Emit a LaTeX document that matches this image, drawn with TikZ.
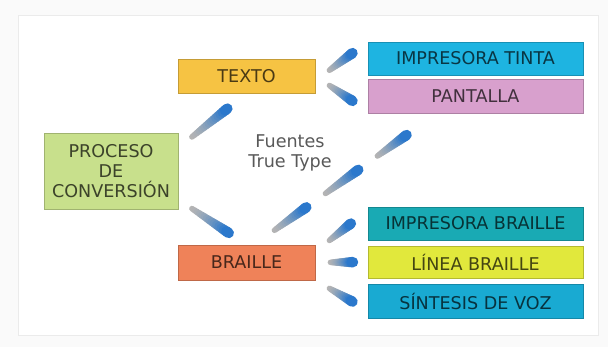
\documentclass[tikz,border=0pt]{standalone}
\usepackage{fontspec}
\setmainfont{DejaVu Sans}
\usepackage{xcolor}
\usepackage{tikz}
\usetikzlibrary{calc}

\definecolor{textoc}{HTML}{F6C343}
\definecolor{procesoc}{HTML}{C8E08C}
\definecolor{braillec}{HTML}{EF8259}
\definecolor{tintac}{HTML}{1EB4E1}
\definecolor{pantallac}{HTML}{D8A0CD}
\definecolor{imprbc}{HTML}{19AAB4}
\definecolor{lineac}{HTML}{E1E83C}
\definecolor{vozc}{HTML}{19AAD2}
\definecolor{penblue}{HTML}{2B78CC}
\definecolor{pengray}{HTML}{B4B4B4}

% crayon stroke: from, to, start fraction, end fraction
\newcommand{\crayon}[4]{%
  \foreach \k in {0,...,14}{
    \pgfmathsetmacro{\cra}{#3+(#4-#3)*\k/15}
    \pgfmathsetmacro{\crb}{#3+(#4-#3)*(\k+1)/15}
    \pgfmathsetmacro{\crmix}{100*(\k/14)^1.4}
    \pgfmathsetmacro{\crw}{1.4+1.2*\k/14}
    \draw[line width=\crw mm, line cap=round, draw=penblue!\crmix!pengray]
      ($(#1)!\cra!(#2)$) -- ($(#1)!\crb!(#2)$);
  }}

\begin{document}
\begin{tikzpicture}[
  box/.style={draw=#1!80!black, fill=#1, text=#1!30!black, align=center, inner sep=0pt,
    minimum width=3.425cm, minimum height=0.85cm, font=\fontsize{12.5}{14.2}\selectfont},
  wide/.style={box=#1, minimum width=5.375cm},
  note/.style={align=center, text=black!65, font=\fontsize{12.5}{14.2}\selectfont}
]
\useasboundingbox (0,0) rectangle (15.2,8.675);
\fill[black!2] (0,0) rectangle (15.2,8.675);
\draw[black!8, fill=white] (0.45,0.3) rectangle (14.95,8.3);

\node[box=procesoc, minimum width=3.35cm, minimum height=1.9cm] (proceso) at (2.775,4.4) {PROCESO\\DE\\CONVERSIÓN};
\node[box=textoc] (texto) at (6.1625,6.775) {TEXTO};
\node[box=braillec, minimum height=0.875cm] (braille) at (6.1625,2.1125) {BRAILLE};
\node[wide=tintac, minimum height=0.825cm] (tinta) at (11.8875,7.2125) {IMPRESORA TINTA};
\node[wide=pantallac] (pantalla) at (11.8875,6.275) {PANTALLA};
\node[wide=imprbc, minimum height=0.825cm] (imprb) at (11.8875,3.0875) {IMPRESORA BRAILLE};
\node[wide=lineac, minimum height=0.8cm] (linea) at (11.8875,2.125) {LÍNEA BRAILLE};
\node[wide=vozc] (voz) at (11.8875,1.15) {SÍNTESIS DE VOZ};
\node[note] (fuentes) at (7.25,4.85) {Fuentes\\True Type};

\crayon{proceso.19}{texto.south}{0.2}{0.72}
\crayon{proceso.-23}{braille.north}{0.2}{0.74}
\crayon{texto.-4}{tinta.north west}{0.27}{0.71}
\crayon{texto.east}{pantalla.-172}{0.27}{0.71}
\crayon{braille.66}{pantalla.-156}{0.11}{0.285}
\crayon{braille.66}{pantalla.-156}{0.39}{0.57}
\crayon{braille.66}{pantalla.-156}{0.675}{0.835}
\crayon{braille.9}{imprb.173}{0.27}{0.68}
\crayon{braille.east}{linea.west}{0.29}{0.72}
\crayon{braille.south east}{voz.-175}{0.27}{0.71}
\end{tikzpicture}
\end{document}
